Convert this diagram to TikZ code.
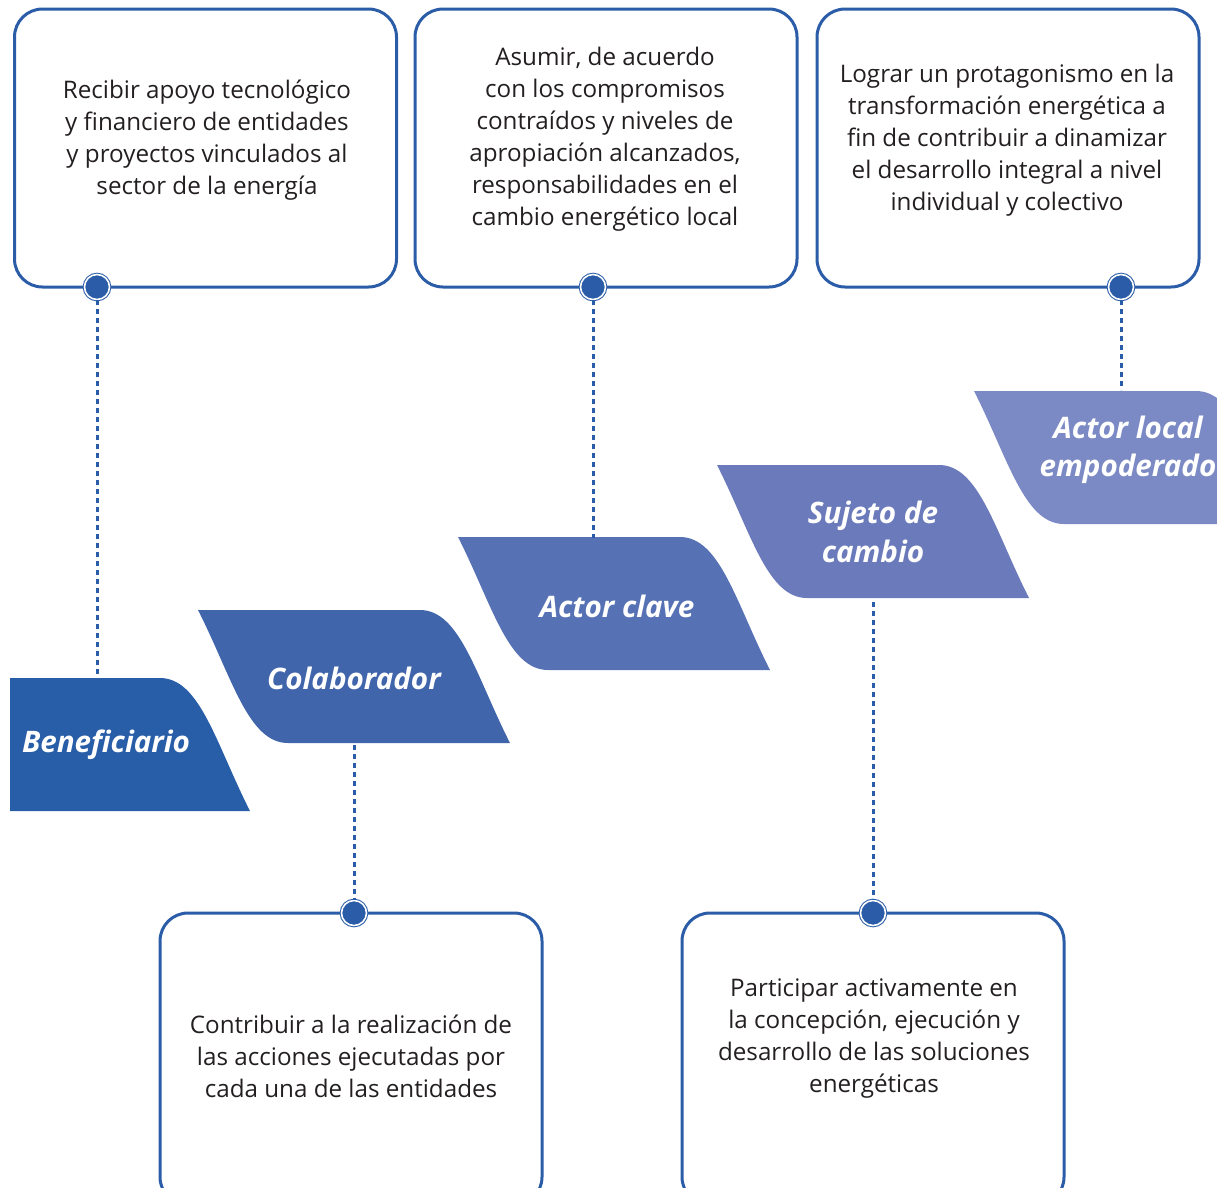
\documentclass[tikz,border=0pt]{standalone}
\usepackage{fontspec}
\setmainfont{Open Sans}
\definecolor{bl}{HTML}{2A5CA8}
\definecolor{txt}{HTML}{231F20}
\definecolor{cA}{HTML}{285DA8}
\definecolor{cB}{HTML}{4065AB}
\definecolor{cC}{HTML}{5671B4}
\definecolor{cD}{HTML}{6A7ABA}
\definecolor{cE}{HTML}{7B8AC4}
\newcommand\wavshape[3]{%
  \fill[#3] (#1,#2) -- ({#1+222},#2) .. controls ({#1+262},#2) and ({#1+278},{#2+66}) .. ({#1+312},{#2+133})
   -- ({#1+90},{#2+133}) .. controls ({#1+50},{#2+133}) and ({#1+34},{#2+67}) .. (#1,#2) -- cycle;}
\tikzset{
  tbox/.style={draw=bl, line width=3pt, rounded corners=28pt, inner sep=0pt, minimum width=382pt},
  btext/.style={align=center, text=txt, font=\fontsize{24.2}{32}\selectfont, inner sep=0pt},
  lbl/.style={align=center, text=white, font=\fontsize{29.6}{38.5}\selectfont\bfseries\itshape, inner sep=0pt},
  dot/.style={circle, draw=bl, double=white, double distance=1.6pt, line width=1pt, fill=bl, minimum size=25pt, inner sep=0pt},
  dotline/.style={draw=bl, line width=3pt, dash pattern=on 5pt off 4pt}
}
\begin{document}
\begin{tikzpicture}[x=1pt,y=-1pt]
\useasboundingbox (0,0) rectangle (1217,1187);
\clip (0,0) rectangle (1217,1187);

% top boxes
\node[tbox, minimum height=278pt] (b1) at (205.5,148) {};
\node[tbox, minimum height=278pt] (b2) at (606,148) {};
\node[tbox, minimum height=278pt] (b3) at (1008,148) {};
% bottom boxes
\node[tbox, minimum height=292pt] (b4) at (351,1059) {};
\node[tbox, minimum height=292pt] (b5) at (873,1059) {};

% texts
\node[btext] (t1) at (207,140) {Recibir apoyo tecnológico\\y financiero de entidades\\y proyectos vinculados al\\sector de la energía};
\node[btext] (t2) at (605,139) {Asumir, de acuerdo\\con los compromisos\\contraídos y niveles de\\apropiación alcanzados,\\responsabilidades en el\\cambio energético local};
\node[btext] (t3) at (1007,140) {Lograr un protagonismo en la\\transformación energética a\\fin de contribuir a dinamizar\\el desarrollo integral a nivel\\individual y colectivo};
\node[btext] (t4) at (351,1056) {Contribuir a la realización de\\las acciones ejecutadas por\\cada una de las entidades};
\node[btext] (t5) at (874,1039) {Participar activamente en\\la concepción, ejecución y\\desarrollo de las soluciones\\energéticas};

% wave shapes
\fill[cA] (10,678) -- (160,678) .. controls (200,678) and (216,744) .. (250,811) -- (10,811) -- cycle;
\wavshape{198}{610}{cB}
\wavshape{458}{537}{cC}
\wavshape{717}{465}{cD}
\wavshape{974}{391}{cE}

\node[lbl] (s1) at (106,745) {Beneficiario};
\node[lbl] (s2) at (354,678) {Colaborador};
\node[lbl] (s3) at (617,606) {Actor clave};
\node[lbl] (s4) at (873,532) {Sujeto de\\cambio};
\node[lbl] (s5) at (1128,450) {Actor local\\empoderado};

% connector ends
\coordinate (e1) at (97,676);
\coordinate (e2) at (593,538);
\coordinate (e3) at (1121,390);
\coordinate (e4) at (354,745);
\coordinate (e5) at (873,602);

% circles
\node[dot] (c1) at (97,287) {};
\node[dot] (c2) at (593,287) {};
\node[dot] (c3) at (1121,287) {};
\node[dot] (c4) at (354,913) {};
\node[dot] (c5) at (873,913) {};

\draw[dotline] (c1) -- (e1);
\draw[dotline] (c2) -- (e2);
\draw[dotline] (c3) -- (e3);
\draw[dotline] (e4) -- (c4);
\draw[dotline] (e5) -- (c5);
\end{tikzpicture}
\end{document}
